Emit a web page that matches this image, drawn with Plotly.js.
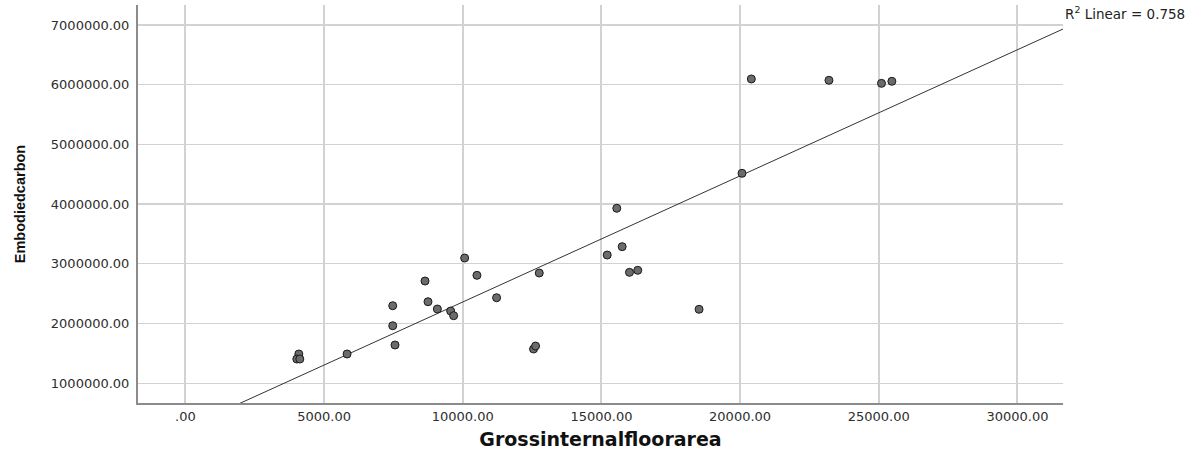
<!DOCTYPE html>
<html>
<head>
<meta charset="utf-8">
<script src="https://cdn.plot.ly/plotly-3.0.1.min.js"></script>
<style>html,body{margin:0;padding:0;background:#fff;}#chart{width:1189px;height:452px;}</style>
</head>
<body>
<div id="chart"></div>
<script>
// Data
const floorArea = [4088, 4016, 4124, 5828, 7474, 7474, 7557, 8638, 8746, 9084, 9563, 9671,
  10068, 10511, 11220, 12758, 12553, 12625, 15554, 15748, 15208, 16011, 16310, 18521,
  20405, 23204, 25099, 25473, 20070];
const embodiedCarbon = [1489000, 1405000, 1405000, 1489000, 2298000, 1963000, 1640000, 2712000, 2365000, 2243000, 2209000, 2131000,
  3097000, 2807000, 2432000, 2846000, 1573000, 1623000, 3930000, 3287000, 3147000, 2857000, 2891000, 2238000,
  6096000, 6074000, 6023000, 6057000, 4516000];
const xTickVals = [0, 5000, 10000, 15000, 20000, 25000, 30000];
const xTickText = ['.00', '5000.00', '10000.00', '15000.00', '20000.00', '25000.00', '30000.00'];
const yTickVals = [1000000, 2000000, 3000000, 4000000, 5000000, 6000000, 7000000];
const yTickText = ['1000000.00', '2000000.00', '3000000.00', '4000000.00', '5000000.00', '6000000.00', '7000000.00'];
const rSquaredLabel = 'R<sup>2</sup> Linear = 0.758';
const xTitle = 'Grossinternalfloorarea';
const yTitle = 'Embodiedcarbon';

const xRange = [-1711, 31644];
const yRange = [668500, 7335000];

// least-squares fit computed from the data
const n = floorArea.length;
const mx = floorArea.reduce((a, b) => a + b, 0) / n;
const my = embodiedCarbon.reduce((a, b) => a + b, 0) / n;
let sxy = 0, sxx = 0;
for (let i = 0; i < n; i++) { sxy += (floorArea[i] - mx) * (embodiedCarbon[i] - my); sxx += (floorArea[i] - mx) ** 2; }
const slope = sxy / sxx;
const intercept = my - slope * mx;
const fitX = [xRange[0], xRange[1]];
const fitY = fitX.map(v => intercept + slope * v);

const traces = [
  {
    x: fitX, y: fitY, mode: 'lines', type: 'scatter',
    line: {color: '#333333', width: 1}, hoverinfo: 'skip', showlegend: false
  },
  {
    x: floorArea, y: embodiedCarbon, mode: 'markers', type: 'scatter',
    marker: {size: 8, color: '#6b6b6b', line: {color: '#1a1a1a', width: 1}},
    showlegend: false
  }
];

const tickFont = {family: 'DejaVu Sans, Liberation Sans, sans-serif', size: 13, color: '#2e2e2e'};

const layout = {
  width: 1189, height: 452,
  margin: {l: 138, r: 126, t: 5, b: 49},
  paper_bgcolor: '#ffffff', plot_bgcolor: '#ffffff',
  font: {family: 'DejaVu Sans, Liberation Sans, sans-serif', size: 12, color: '#2e2e2e'},
  xaxis: {
    range: xRange, tickvals: xTickVals, ticktext: xTickText,
    showgrid: true, gridcolor: '#d2d2d2', gridwidth: 2,
    zeroline: false, showline: true, linecolor: '#8c8c8c', linewidth: 2,
    ticks: '', ticklabelstandoff: 0,
    tickfont: tickFont,
    title: {text: xTitle, font: {size: 19, color: '#111111', family: 'DejaVu Sans, Liberation Sans, sans-serif', weight: 'bold'}, standoff: 10}
  },
  yaxis: {
    range: yRange, tickvals: yTickVals, ticktext: yTickText,
    showgrid: true, gridcolor: '#d2d2d2', gridwidth: 1.3,
    zeroline: false, showline: true, linecolor: '#8c8c8c', linewidth: 2,
    ticks: 'outside', ticklen: 4, tickcolor: 'rgba(0,0,0,0)',
    tickfont: tickFont,
    title: {text: yTitle, font: {size: 14.5, color: '#111111', family: 'Liberation Sans, Arial, sans-serif', weight: 'bold'}, standoff: 22}
  },
  annotations: [{
    text: rSquaredLabel, xref: 'paper', yref: 'paper', x: 1.0, y: 1.0,
    xanchor: 'left', yanchor: 'top', xshift: 0, yshift: 3, showarrow: false,
    font: {size: 13.5, color: '#222222', family: 'DejaVu Sans, Liberation Sans, sans-serif'}
  }]
};

Plotly.newPlot('chart', traces, layout, {displayModeBar: false, staticPlot: true});
</script>
</body>
</html>
